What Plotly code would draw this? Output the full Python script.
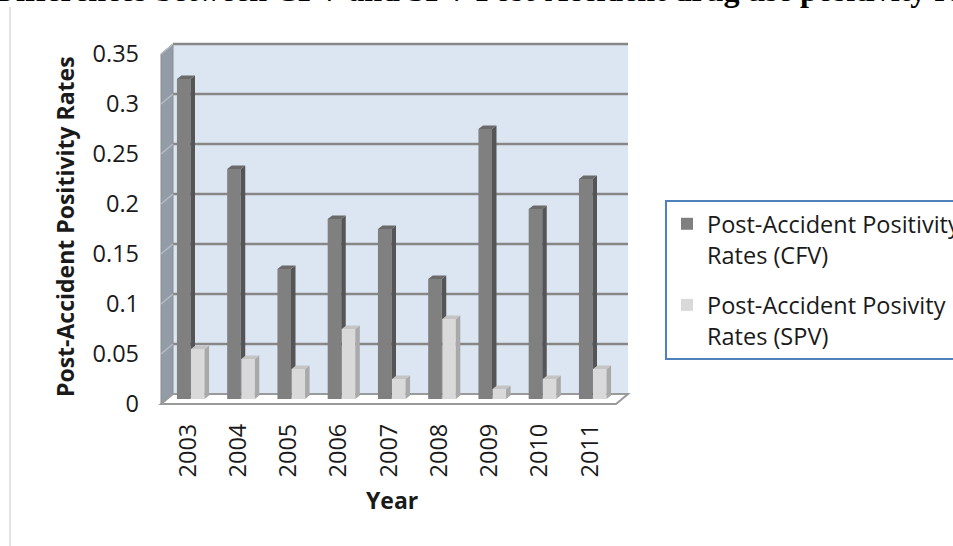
import plotly.graph_objects as go

# ---- data -------------------------------------------------------------
years = ["2003", "2004", "2005", "2006", "2007", "2008", "2009", "2010", "2011"]
cfv_rates = [0.32, 0.23, 0.13, 0.18, 0.17, 0.12, 0.27, 0.19, 0.22]
spv_rates = [0.05, 0.04, 0.03, 0.07, 0.02, 0.08, 0.01, 0.02, 0.03]
y_ticks = [0, 0.05, 0.10, 0.15, 0.20, 0.25, 0.30, 0.35]
y_tick_text = ["0", "0.05", "0.1", "0.15", "0.2", "0.25", "0.3", "0.35"]
cfv_name = "Post-Accident Positivity<br>Rates (CFV)"
spv_name = "Post-Accident Posivity<br>Rates (SPV)"

# ---- page geometry (pixels) ----------------------------------------------
W, H = 953, 546
X_PX = 50.25            # pixels per category step
Y_PX = 1000.0           # pixels per unit of rate
CAT0_PX = 191           # pixel x of the first category centre
ZERO_PX = 399           # pixel y of rate 0 on the bar plane
DOM_X = (150, 640)      # plot area, pixels
DOM_Y = (35, 412)

x_range = [(DOM_X[0] - CAT0_PX) / X_PX, (DOM_X[1] - CAT0_PX) / X_PX]
y_range = [(ZERO_PX - DOM_Y[1]) / Y_PX, (ZERO_PX - DOM_Y[0]) / Y_PX]

def fx(p):
    return p / W

def fy(p):
    return 1 - p / H

# 3-D box depth (data units): back wall sits up/right, front edge down/left
DXB, DYB = 6 / X_PX, 5 / Y_PX
BOX_L = (167 - CAT0_PX) / X_PX
BOX_R = (622 - CAT0_PX) / X_PX
TOP = y_ticks[-1]

# bar depth
BDX, BDY = 4.5 / X_PX, 3.5 / Y_PX
BAR_W = 0.27
CFV_OFF, SPV_OFF = -0.28, 0.0

idx = list(range(len(years)))

FONT = "Open Sans"
TXT = "#1a1a1a"

fig = go.Figure()

# front faces
fig.add_trace(go.Bar(x=idx, y=cfv_rates, width=BAR_W, offset=CFV_OFF, name=cfv_name,
                     marker=dict(color="#808080", line=dict(width=0)), legendgroup="a"))
fig.add_trace(go.Bar(x=idx, y=spv_rates, width=BAR_W, offset=SPV_OFF, name=spv_name,
                     marker=dict(color="#d9d9d9", line=dict(width=0)), legendgroup="b"))

# side and top faces, built from the same values
def poly_trace(xs, ys, color):
    return go.Scatter(x=xs, y=ys, mode="lines", fill="toself", fillcolor=color,
                      line=dict(width=0, color=color), hoverinfo="skip", showlegend=False)

cs_x, cs_y, ct_x, ct_y = [], [], [], []
ss_x, ss_y, st_x, st_y = [], [], [], []
for i, v, s in zip(idx, cfv_rates, spv_rates):
    x0 = i + CFV_OFF
    x1 = x0 + BAR_W
    xs0 = i + SPV_OFF
    xs1 = xs0 + BAR_W
    # CFV side face, minus the part hidden by the SPV bar in front
    cs_x += [x1, xs0, xs0, x1 + BDX, x1 + BDX, x1, x1, None]
    cs_y += [0, (xs0 - x1) / BDX * BDY, s, s, v + BDY, v, 0, None]
    ct_x += [x0, x1, x1 + BDX, x0 + BDX, x0, None]
    ct_y += [v, v, v + BDY, v + BDY, v, None]
    ss_x += [xs1, xs1 + BDX, xs1 + BDX, xs1, xs1, None]
    ss_y += [0, BDY, s + BDY, s, 0, None]
    st_x += [xs0, xs1, xs1 + BDX, xs0 + BDX, xs0, None]
    st_y += [s, s, s + BDY, s + BDY, s, None]

fig.add_trace(poly_trace(cs_x, cs_y, "#555555"))
fig.add_trace(poly_trace(ct_x, ct_y, "#6a6a6a"))
fig.add_trace(poly_trace(ss_x, ss_y, "#a9a9a9"))
fig.add_trace(poly_trace(st_x, st_y, "#c4c4c4"))

# ---- 3-D frame: back wall, side wall, floor, gridlines ----------------
shapes = []
def path(pts):
    return "M " + " L ".join(f"{x},{y}" for x, y in pts) + " Z"

shapes.append(dict(type="rect", xref="x", yref="y", layer="below",
                   x0=BOX_L + DXB, x1=BOX_R + DXB, y0=DYB, y1=TOP + DYB,
                   fillcolor="#dce6f2", line=dict(width=0)))
shapes.append(dict(type="path", xref="x", yref="y", layer="below",
                   path=path([(BOX_L - DXB, -DYB), (BOX_L + DXB, DYB),
                              (BOX_L + DXB, TOP + DYB), (BOX_L - DXB, TOP - DYB)]),
                   fillcolor="#929ca8", line=dict(color="#8c8c8c", width=1)))
for t in y_ticks[1:]:
    shapes.append(dict(type="line", xref="x", yref="y", layer="below",
                       x0=BOX_L + DXB, x1=BOX_R + DXB, y0=t + DYB, y1=t + DYB,
                       line=dict(color="#878787", width=2.5)))
    shapes.append(dict(type="line", xref="x", yref="y", layer="below",
                       x0=BOX_L - DXB, x1=BOX_L + DXB, y0=t - DYB, y1=t + DYB,
                       line=dict(color="#b4bbc4", width=1.5)))
shapes.append(dict(type="path", xref="x", yref="y", layer="below",
                   path=path([(BOX_L - DXB, -DYB), (BOX_R - DXB, -DYB),
                              (BOX_R + DXB, DYB), (BOX_L + DXB, DYB)]),
                   fillcolor="#ffffff", line=dict(color="#9a9a9a", width=2)))
# page rule on the left
shapes.append(dict(type="line", xref="paper", yref="paper",
                   x0=fx(10), x1=fx(10), y0=fy(7), y1=0,
                   line=dict(color="#c8c8c8", width=1)))

annotations = [
    dict(text="<b>Post-Accident Positivity Rates</b>", xref="paper", yref="paper",
         x=fx(65), y=fy(227), textangle=-90, showarrow=False,
         xanchor="center", yanchor="middle", font=dict(family=FONT, size=23, color=TXT)),
    dict(text="<b>Year</b>", xref="paper", yref="paper",
         x=fx(392), y=fy(500), showarrow=False,
         xanchor="center", yanchor="middle", font=dict(family=FONT, size=23, color=TXT)),
    dict(text="<b>Differences between CFV and SPV Post-Accident drug use positivity rates</b>",
         xref="paper", yref="paper", x=fx(-9), y=fy(-10.5), showarrow=False,
         xanchor="left", yanchor="middle",
         font=dict(family="Liberation Serif", size=32, color="#000000")),
]

fig.update_layout(
    width=W, height=H,
    margin=dict(l=0, r=0, t=0, b=0, autoexpand=False),
    paper_bgcolor="white", plot_bgcolor="rgba(0,0,0,0)",
    barmode="overlay",
    shapes=shapes, annotations=annotations,
    showlegend=True,
    legend=dict(x=fx(665), y=fy(200), xanchor="left", yanchor="top",
                bgcolor="white", bordercolor="#4f81bd", borderwidth=2,
                font=dict(family=FONT, size=23.5, color=TXT),
                valign="top", tracegroupgap=17, traceorder="grouped"),
    xaxis=dict(domain=[fx(DOM_X[0]), fx(DOM_X[1])], range=x_range,
               tickvals=idx, ticktext=years, tickangle=-90,
               showgrid=False, zeroline=False, showline=False, ticks="",
               ticklabelshift=-3, ticklabelstandoff=6,
               tickfont=dict(family=FONT, size=23.5, color=TXT)),
    yaxis=dict(domain=[fy(DOM_Y[1]), fy(DOM_Y[0])], range=y_range,
               tickvals=y_ticks, ticktext=y_tick_text,
               showgrid=False, zeroline=False, showline=False, ticks="",
               ticklabelshift=5, ticklabelstandoff=10,
               tickfont=dict(family=FONT, size=23.5, color=TXT)),
)

fig.write_html("out.html")
